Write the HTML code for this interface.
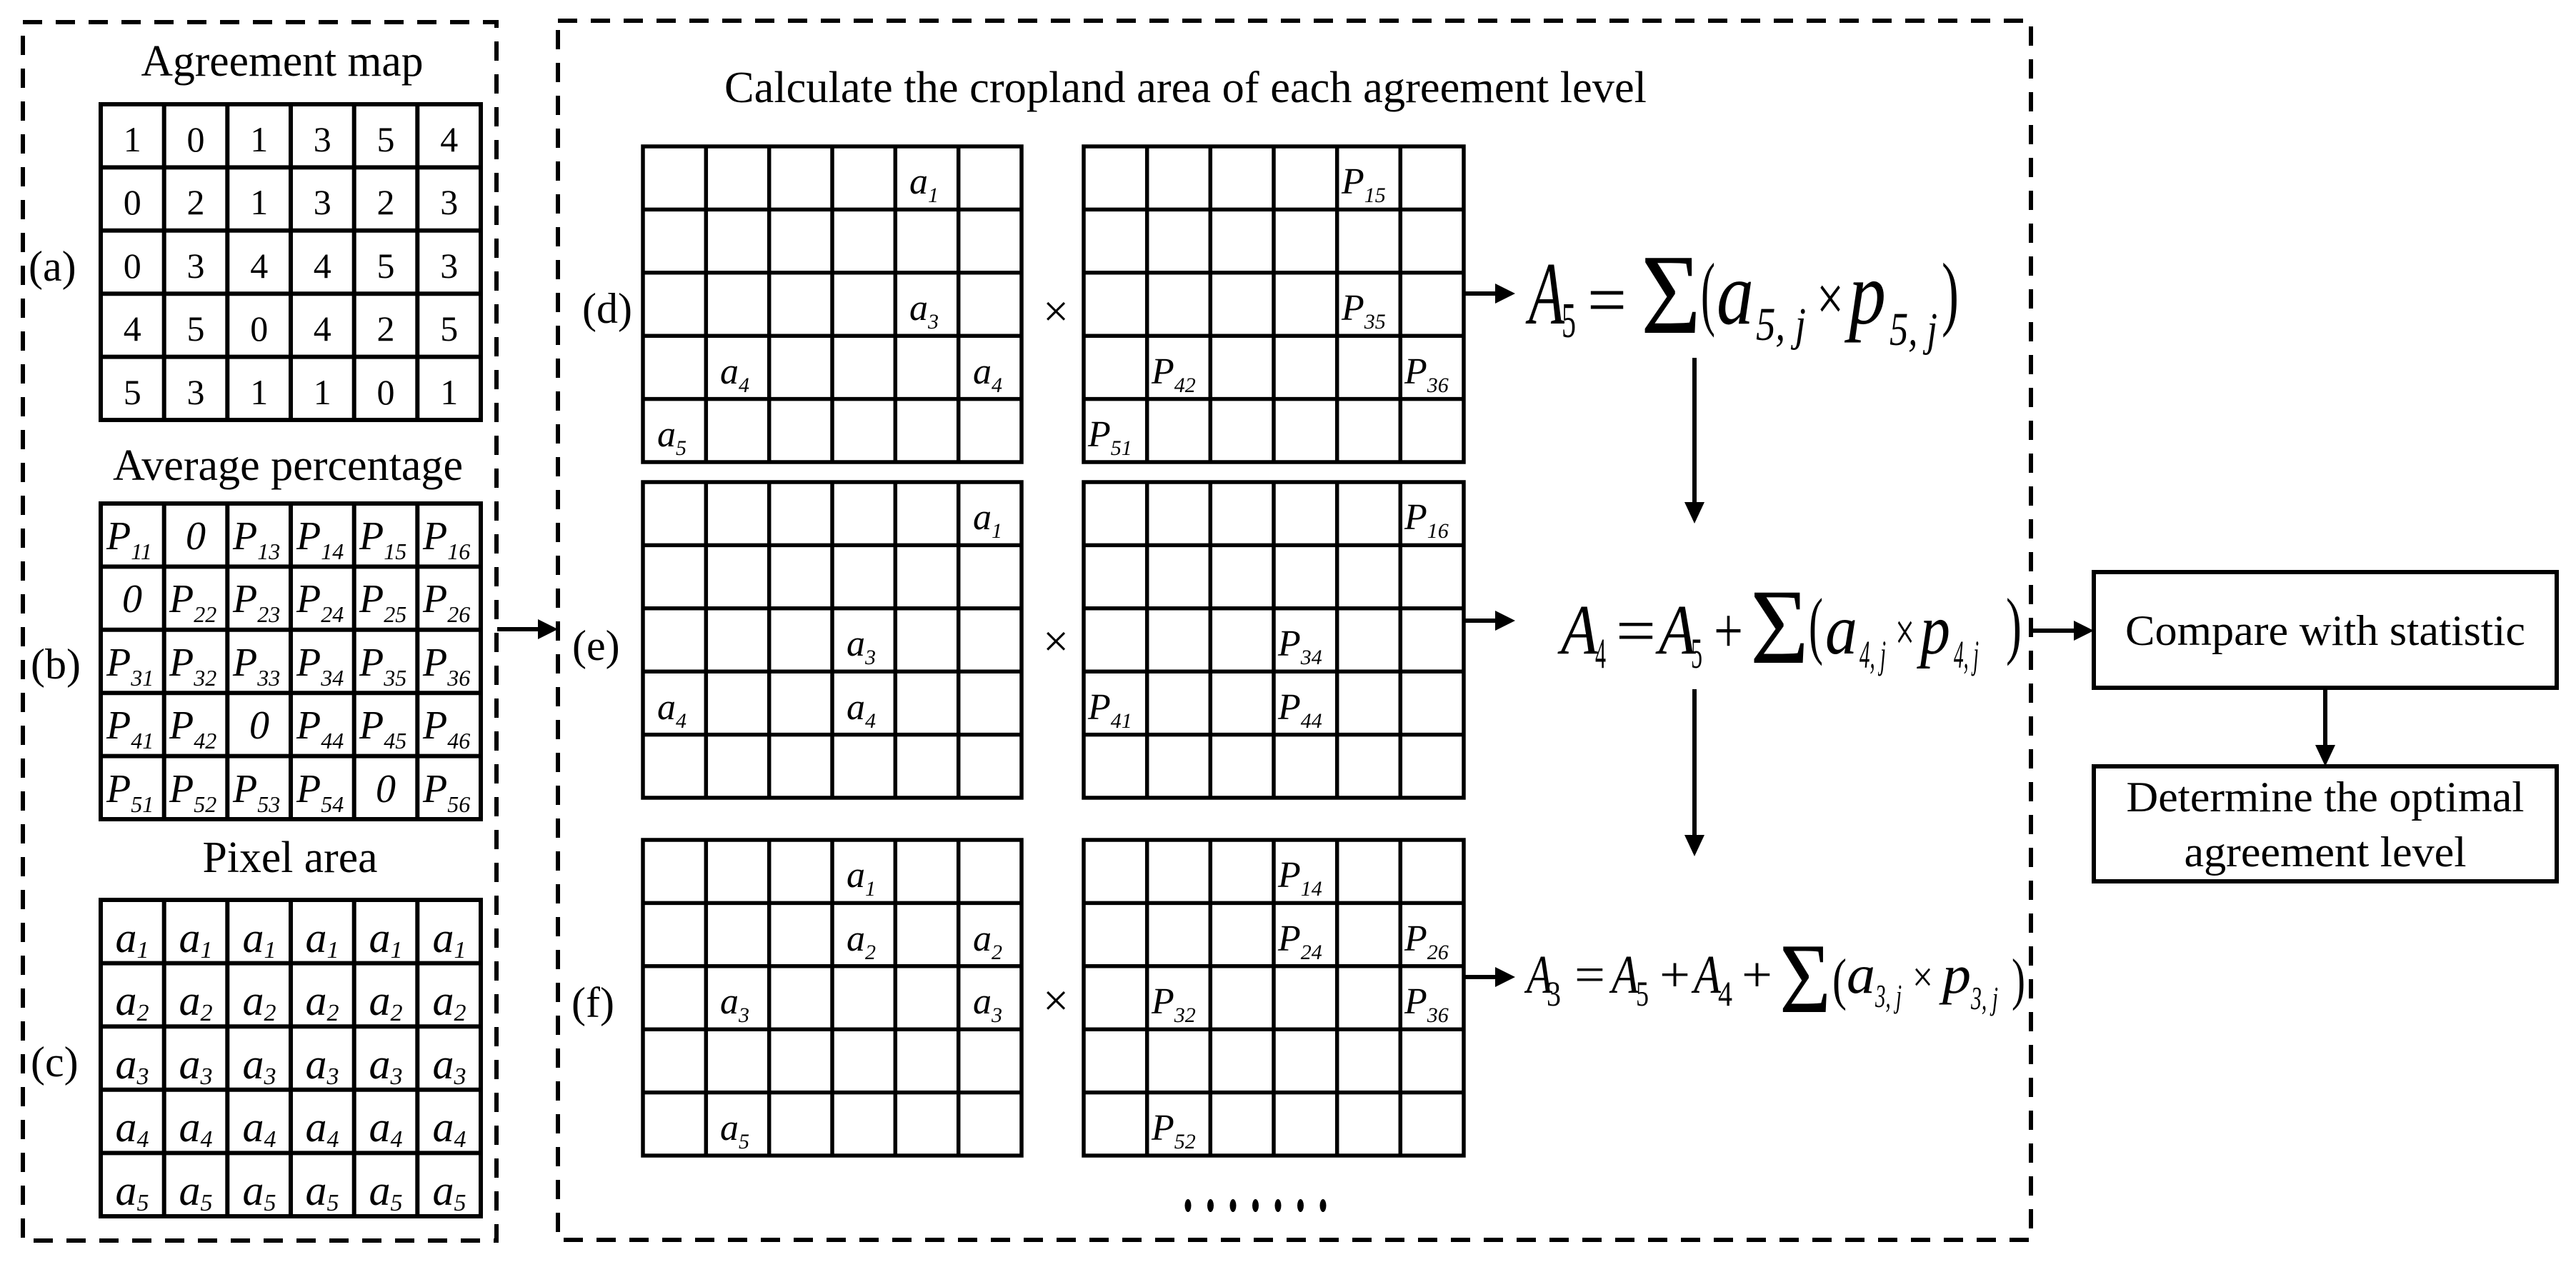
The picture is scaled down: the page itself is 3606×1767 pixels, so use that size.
<!DOCTYPE html>
<html><head><meta charset="utf-8"><style>
html,body{margin:0;padding:0;background:#fff}
svg{display:block}
text{font-family:"Liberation Serif","DejaVu Serif","Times New Roman",Times,serif;fill:#000}
.i{font-style:italic}
</style></head><body>
<svg width="3606" height="1767" viewBox="0 0 3606 1767" xmlns="http://www.w3.org/2000/svg" font-family="Liberation Serif, DejaVu Serif, serif">
<rect width="3606" height="1767" fill="#fff"/>
<rect x="32" y="31" width="663" height="1706" fill="none" stroke="#000" stroke-width="6" stroke-dasharray="27 19"/>
<rect x="781" y="29" width="2062" height="1707" fill="none" stroke="#000" stroke-width="6" stroke-dasharray="27 19"/>

<g fill="none" stroke="#000" stroke-width="6">
<rect x="141" y="146" width="532" height="442"/>
<path d="M229.7 146V588M318.3 146V588M407 146V588M495.7 146V588M584.3 146V588M141 234.4H673M141 322.8H673M141 411.2H673M141 499.6H673"/>
<rect x="141" y="705" width="532" height="442"/>
<path d="M229.7 705V1147M318.3 705V1147M407 705V1147M495.7 705V1147M584.3 705V1147M141 793.4H673M141 881.8H673M141 970.2H673M141 1058.6H673"/>
<rect x="141" y="1260" width="532" height="443"/>
<path d="M229.7 1260V1703M318.3 1260V1703M407 1260V1703M495.7 1260V1703M584.3 1260V1703M141 1348.6H673M141 1437.2H673M141 1525.8H673M141 1614.4H673"/>
</g>
<g fill="none" stroke="#000" stroke-width="5.5">
<rect x="900" y="205" width="530" height="442"/>
<path d="M988.3 205V647M1076.7 205V647M1165 205V647M1253.3 205V647M1341.7 205V647M900 293.4H1430M900 381.8H1430M900 470.2H1430M900 558.6H1430"/>
<rect x="1517" y="205" width="532" height="442"/>
<path d="M1605.7 205V647M1694.3 205V647M1783 205V647M1871.7 205V647M1960.3 205V647M1517 293.4H2049M1517 381.8H2049M1517 470.2H2049M1517 558.6H2049"/>
<rect x="900" y="675" width="530" height="442"/>
<path d="M988.3 675V1117M1076.7 675V1117M1165 675V1117M1253.3 675V1117M1341.7 675V1117M900 763.4H1430M900 851.8H1430M900 940.2H1430M900 1028.6H1430"/>
<rect x="1517" y="675" width="532" height="442"/>
<path d="M1605.7 675V1117M1694.3 675V1117M1783 675V1117M1871.7 675V1117M1960.3 675V1117M1517 763.4H2049M1517 851.8H2049M1517 940.2H2049M1517 1028.6H2049"/>
<rect x="900" y="1176" width="530" height="442"/>
<path d="M988.3 1176V1618M1076.7 1176V1618M1165 1176V1618M1253.3 1176V1618M1341.7 1176V1618M900 1264.4H1430M900 1352.8H1430M900 1441.2H1430M900 1529.6H1430"/>
<rect x="1517" y="1176" width="532" height="442"/>
<path d="M1605.7 1176V1618M1694.3 1176V1618M1783 1176V1618M1871.7 1176V1618M1960.3 1176V1618M1517 1264.4H2049M1517 1352.8H2049M1517 1441.2H2049M1517 1529.6H2049"/>
</g>

<text x="395" y="106" font-size="62" text-anchor="middle" textLength="395" lengthAdjust="spacingAndGlyphs">Agreement map</text>
<text x="403" y="672" font-size="62" text-anchor="middle" textLength="490" lengthAdjust="spacingAndGlyphs">Average percentage</text>
<text x="406" y="1221" font-size="62" text-anchor="middle" textLength="245" lengthAdjust="spacingAndGlyphs">Pixel area</text>
<text x="1014" y="143" font-size="62" textLength="1291" lengthAdjust="spacingAndGlyphs">Calculate the cropland area of each agreement level</text>

<g font-size="60">
<text x="40" y="393">(a)</text>
<text x="43" y="950">(b)</text>
<text x="43" y="1507">(c)</text>
<text x="815" y="452">(d)</text>
<text x="801" y="924">(e)</text>
<text x="800" y="1424">(f)</text>
</g>
<g font-size="64" text-anchor="middle">
<text x="1478" y="457">×</text>
<text x="1478" y="919">×</text>
<text x="1478" y="1422">×</text>
</g>

<g font-size="50" text-anchor="middle">
<text x="185.3" y="212">1</text><text x="274" y="212">0</text><text x="362.7" y="212">1</text><text x="451.3" y="212">3</text><text x="540" y="212">5</text><text x="628.7" y="212">4</text>
<text x="185.3" y="300">0</text><text x="274" y="300">2</text><text x="362.7" y="300">1</text><text x="451.3" y="300">3</text><text x="540" y="300">2</text><text x="628.7" y="300">3</text>
<text x="185.3" y="389">0</text><text x="274" y="389">3</text><text x="362.7" y="389">4</text><text x="451.3" y="389">4</text><text x="540" y="389">5</text><text x="628.7" y="389">3</text>
<text x="185.3" y="477">4</text><text x="274" y="477">5</text><text x="362.7" y="477">0</text><text x="451.3" y="477">4</text><text x="540" y="477">2</text><text x="628.7" y="477">5</text>
<text x="185.3" y="566">5</text><text x="274" y="566">3</text><text x="362.7" y="566">1</text><text x="451.3" y="566">1</text><text x="540" y="566">0</text><text x="628.7" y="566">1</text>
</g>

<g class="i" font-size="56">
<text x="149" y="769">P<tspan font-size="32" dy="14">11</tspan></text>
<text x="274" y="769" text-anchor="middle">0</text>
<text x="326" y="769">P<tspan font-size="32" dy="14">13</tspan></text>
<text x="415" y="769">P<tspan font-size="32" dy="14">14</tspan></text>
<text x="503" y="769">P<tspan font-size="32" dy="14">15</tspan></text>
<text x="592" y="769">P<tspan font-size="32" dy="14">16</tspan></text>
<text x="185" y="857" text-anchor="middle">0</text>
<text x="237" y="857">P<tspan font-size="32" dy="14">22</tspan></text>
<text x="326" y="857">P<tspan font-size="32" dy="14">23</tspan></text>
<text x="415" y="857">P<tspan font-size="32" dy="14">24</tspan></text>
<text x="503" y="857">P<tspan font-size="32" dy="14">25</tspan></text>
<text x="592" y="857">P<tspan font-size="32" dy="14">26</tspan></text>
<text x="149" y="946">P<tspan font-size="32" dy="14">31</tspan></text>
<text x="237" y="946">P<tspan font-size="32" dy="14">32</tspan></text>
<text x="326" y="946">P<tspan font-size="32" dy="14">33</tspan></text>
<text x="415" y="946">P<tspan font-size="32" dy="14">34</tspan></text>
<text x="503" y="946">P<tspan font-size="32" dy="14">35</tspan></text>
<text x="592" y="946">P<tspan font-size="32" dy="14">36</tspan></text>
<text x="149" y="1034">P<tspan font-size="32" dy="14">41</tspan></text>
<text x="237" y="1034">P<tspan font-size="32" dy="14">42</tspan></text>
<text x="363" y="1034" text-anchor="middle">0</text>
<text x="415" y="1034">P<tspan font-size="32" dy="14">44</tspan></text>
<text x="503" y="1034">P<tspan font-size="32" dy="14">45</tspan></text>
<text x="592" y="1034">P<tspan font-size="32" dy="14">46</tspan></text>
<text x="149" y="1123">P<tspan font-size="32" dy="14">51</tspan></text>
<text x="237" y="1123">P<tspan font-size="32" dy="14">52</tspan></text>
<text x="326" y="1123">P<tspan font-size="32" dy="14">53</tspan></text>
<text x="415" y="1123">P<tspan font-size="32" dy="14">54</tspan></text>
<text x="540" y="1123" text-anchor="middle">0</text>
<text x="592" y="1123">P<tspan font-size="32" dy="14">56</tspan></text>
</g>

<g class="i" font-size="60" text-anchor="middle">
<text x="185" y="1333">a<tspan font-size="34" dy="8">1</tspan></text><text x="274" y="1333">a<tspan font-size="34" dy="8">1</tspan></text><text x="363" y="1333">a<tspan font-size="34" dy="8">1</tspan></text><text x="451" y="1333">a<tspan font-size="34" dy="8">1</tspan></text><text x="540" y="1333">a<tspan font-size="34" dy="8">1</tspan></text><text x="629" y="1333">a<tspan font-size="34" dy="8">1</tspan></text>
<text x="185" y="1421">a<tspan font-size="34" dy="8">2</tspan></text><text x="274" y="1421">a<tspan font-size="34" dy="8">2</tspan></text><text x="363" y="1421">a<tspan font-size="34" dy="8">2</tspan></text><text x="451" y="1421">a<tspan font-size="34" dy="8">2</tspan></text><text x="540" y="1421">a<tspan font-size="34" dy="8">2</tspan></text><text x="629" y="1421">a<tspan font-size="34" dy="8">2</tspan></text>
<text x="185" y="1510">a<tspan font-size="34" dy="8">3</tspan></text><text x="274" y="1510">a<tspan font-size="34" dy="8">3</tspan></text><text x="363" y="1510">a<tspan font-size="34" dy="8">3</tspan></text><text x="451" y="1510">a<tspan font-size="34" dy="8">3</tspan></text><text x="540" y="1510">a<tspan font-size="34" dy="8">3</tspan></text><text x="629" y="1510">a<tspan font-size="34" dy="8">3</tspan></text>
<text x="185" y="1598">a<tspan font-size="34" dy="8">4</tspan></text><text x="274" y="1598">a<tspan font-size="34" dy="8">4</tspan></text><text x="363" y="1598">a<tspan font-size="34" dy="8">4</tspan></text><text x="451" y="1598">a<tspan font-size="34" dy="8">4</tspan></text><text x="540" y="1598">a<tspan font-size="34" dy="8">4</tspan></text><text x="629" y="1598">a<tspan font-size="34" dy="8">4</tspan></text>
<text x="185" y="1687">a<tspan font-size="34" dy="8">5</tspan></text><text x="274" y="1687">a<tspan font-size="34" dy="8">5</tspan></text><text x="363" y="1687">a<tspan font-size="34" dy="8">5</tspan></text><text x="451" y="1687">a<tspan font-size="34" dy="8">5</tspan></text><text x="540" y="1687">a<tspan font-size="34" dy="8">5</tspan></text><text x="629" y="1687">a<tspan font-size="34" dy="8">5</tspan></text>
</g>

<g class="i" font-size="52">
<text x="1273" y="271">a<tspan font-size="30" dy="12">1</tspan></text>
<text x="1273" y="448">a<tspan font-size="30" dy="12">3</tspan></text>
<text x="1008" y="537">a<tspan font-size="30" dy="12">4</tspan></text>
<text x="1362" y="537">a<tspan font-size="30" dy="12">4</tspan></text>
<text x="920" y="625">a<tspan font-size="30" dy="12">5</tspan></text>
<text x="1878" y="271">P<tspan font-size="30" dy="12">15</tspan></text>
<text x="1878" y="448">P<tspan font-size="30" dy="12">35</tspan></text>
<text x="1612" y="537">P<tspan font-size="30" dy="12">42</tspan></text>
<text x="1966" y="537">P<tspan font-size="30" dy="12">36</tspan></text>
<text x="1523" y="625">P<tspan font-size="30" dy="12">51</tspan></text>
<text x="1362" y="741">a<tspan font-size="30" dy="12">1</tspan></text>
<text x="1185" y="918">a<tspan font-size="30" dy="12">3</tspan></text>
<text x="920" y="1007">a<tspan font-size="30" dy="12">4</tspan></text>
<text x="1185" y="1007">a<tspan font-size="30" dy="12">4</tspan></text>
<text x="1966" y="741">P<tspan font-size="30" dy="12">16</tspan></text>
<text x="1789" y="918">P<tspan font-size="30" dy="12">34</tspan></text>
<text x="1523" y="1007">P<tspan font-size="30" dy="12">41</tspan></text>
<text x="1789" y="1007">P<tspan font-size="30" dy="12">44</tspan></text>
<text x="1185" y="1242">a<tspan font-size="30" dy="12">1</tspan></text>
<text x="1185" y="1331">a<tspan font-size="30" dy="12">2</tspan></text>
<text x="1362" y="1331">a<tspan font-size="30" dy="12">2</tspan></text>
<text x="1008" y="1419">a<tspan font-size="30" dy="12">3</tspan></text>
<text x="1362" y="1419">a<tspan font-size="30" dy="12">3</tspan></text>
<text x="1008" y="1596">a<tspan font-size="30" dy="12">5</tspan></text>
<text x="1789" y="1242">P<tspan font-size="30" dy="12">14</tspan></text>
<text x="1789" y="1331">P<tspan font-size="30" dy="12">24</tspan></text>
<text x="1966" y="1331">P<tspan font-size="30" dy="12">26</tspan></text>
<text x="1612" y="1419">P<tspan font-size="30" dy="12">32</tspan></text>
<text x="1966" y="1419">P<tspan font-size="30" dy="12">36</tspan></text>
<text x="1612" y="1596">P<tspan font-size="30" dy="12">52</tspan></text>
</g>

<g fill="#000">
<ellipse cx="1663" cy="1688" rx="4.5" ry="9"/><ellipse cx="1694.5" cy="1688" rx="4.5" ry="9"/><ellipse cx="1726" cy="1688" rx="4.5" ry="9"/><ellipse cx="1757.5" cy="1688" rx="4.5" ry="9"/><ellipse cx="1789" cy="1688" rx="4.5" ry="9"/><ellipse cx="1820.5" cy="1688" rx="4.5" ry="9"/><ellipse cx="1852" cy="1688" rx="4.5" ry="9"/>
</g>

<g stroke="#000" stroke-width="6" fill="none">
<path d="M696 881H755"/>
<path d="M2050 411H2095"/>
<path d="M2049 869H2095"/>
<path d="M2049 1368H2095"/>
<path d="M2372 501V705"/>
<path d="M2372 965V1171"/>
<path d="M2845 883H2905"/>
<path d="M3255 963V1045"/>
</g>
<g fill="#000">
<path d="M781 881L753 867V895Z"/>
<path d="M2121 411L2093 397V425Z"/>
<path d="M2121 869L2093 855V883Z"/>
<path d="M2121 1368L2093 1354V1382Z"/>
<path d="M2372 733L2358 703H2386Z"/>
<path d="M2372 1199L2358 1169H2386Z"/>
<path d="M2931 883L2903 869V897Z"/>
<path d="M3255 1073L3241 1043H3269Z"/>
</g>

<text class="i" x="2140" y="453" font-size="125" textLength="50" lengthAdjust="spacingAndGlyphs">A</text>
<text x="2186" y="472" font-size="70" textLength="20" lengthAdjust="spacingAndGlyphs">5</text>
<text x="2222" y="453" font-size="100" textLength="55" lengthAdjust="spacingAndGlyphs">=</text>
<text x="2297" y="466" font-size="160" textLength="84" lengthAdjust="spacingAndGlyphs">Σ</text>
<text x="2381" y="448" font-size="115" textLength="20" lengthAdjust="spacingAndGlyphs">(</text>
<text class="i" x="2403" y="453" font-size="125" textLength="52" lengthAdjust="spacingAndGlyphs">a</text>
<text class="i" x="2458" y="476" font-size="66" textLength="70" lengthAdjust="spacingAndGlyphs">5, j</text>
<text x="2543" y="448" font-size="90" textLength="38" lengthAdjust="spacingAndGlyphs">×</text>
<text class="i" x="2588" y="453" font-size="125" textLength="52" lengthAdjust="spacingAndGlyphs">p</text>
<text class="i" x="2645" y="483" font-size="66" textLength="67" lengthAdjust="spacingAndGlyphs">5, j</text>
<text x="2718" y="448" font-size="115" textLength="24" lengthAdjust="spacingAndGlyphs">)</text>

<text class="i" x="2185" y="915" font-size="100" textLength="52" lengthAdjust="spacingAndGlyphs">A</text>
<text x="2233" y="935" font-size="60" textLength="15" lengthAdjust="spacingAndGlyphs">4</text>
<text x="2262" y="913" font-size="90" textLength="56" lengthAdjust="spacingAndGlyphs">=</text>
<text class="i" x="2322" y="915" font-size="100" textLength="52" lengthAdjust="spacingAndGlyphs">A</text>
<text x="2367" y="935" font-size="60" textLength="16" lengthAdjust="spacingAndGlyphs">5</text>
<text x="2399" y="913" font-size="90" textLength="41" lengthAdjust="spacingAndGlyphs">+</text>
<text x="2450" y="928" font-size="150" textLength="82" lengthAdjust="spacingAndGlyphs">Σ</text>
<text x="2532" y="910" font-size="105" textLength="20" lengthAdjust="spacingAndGlyphs">(</text>
<text class="i" x="2555" y="915" font-size="100" textLength="45" lengthAdjust="spacingAndGlyphs">a</text>
<text class="i" x="2603" y="935" font-size="55" textLength="37" lengthAdjust="spacingAndGlyphs">4, j</text>
<text x="2653" y="910" font-size="75" textLength="27" lengthAdjust="spacingAndGlyphs">×</text>
<text class="i" x="2688" y="915" font-size="100" textLength="42" lengthAdjust="spacingAndGlyphs">p</text>
<text class="i" x="2735" y="935" font-size="55" textLength="35" lengthAdjust="spacingAndGlyphs">4, j</text>
<text x="2808" y="910" font-size="105" textLength="22" lengthAdjust="spacingAndGlyphs">)</text>

<text class="i" x="2137" y="1390" font-size="76" textLength="36" lengthAdjust="spacingAndGlyphs">A</text>
<text x="2165" y="1408" font-size="50" textLength="20" lengthAdjust="spacingAndGlyphs">3</text>
<text x="2204" y="1388" font-size="70" textLength="43" lengthAdjust="spacingAndGlyphs">=</text>
<text class="i" x="2256" y="1390" font-size="76" textLength="38" lengthAdjust="spacingAndGlyphs">A</text>
<text x="2290" y="1408" font-size="50" textLength="18" lengthAdjust="spacingAndGlyphs">5</text>
<text x="2323" y="1388" font-size="70" textLength="43" lengthAdjust="spacingAndGlyphs">+</text>
<text class="i" x="2371" y="1390" font-size="76" textLength="38" lengthAdjust="spacingAndGlyphs">A</text>
<text x="2405" y="1408" font-size="50" textLength="20" lengthAdjust="spacingAndGlyphs">4</text>
<text x="2438" y="1388" font-size="70" textLength="43" lengthAdjust="spacingAndGlyphs">+</text>
<text x="2491" y="1417" font-size="140" textLength="72" lengthAdjust="spacingAndGlyphs">Σ</text>
<text x="2565" y="1398" font-size="80" textLength="20" lengthAdjust="spacingAndGlyphs">(</text>
<text class="i" x="2585" y="1390" font-size="76" textLength="40" lengthAdjust="spacingAndGlyphs">a</text>
<text class="i" x="2625" y="1410" font-size="45" textLength="37" lengthAdjust="spacingAndGlyphs">3, j</text>
<text x="2677" y="1388" font-size="60" textLength="29" lengthAdjust="spacingAndGlyphs">×</text>
<text class="i" x="2719" y="1390" font-size="76" textLength="40" lengthAdjust="spacingAndGlyphs">p</text>
<text class="i" x="2759" y="1413" font-size="45" textLength="38" lengthAdjust="spacingAndGlyphs">3, j</text>
<text x="2816" y="1398" font-size="80" textLength="19" lengthAdjust="spacingAndGlyphs">)</text>

<rect x="2931" y="801" width="648" height="162" fill="#fff" stroke="#000" stroke-width="6"/>
<rect x="2931" y="1073" width="648" height="161" fill="#fff" stroke="#000" stroke-width="6"/>
<text x="3255" y="903" font-size="60" text-anchor="middle" textLength="560" lengthAdjust="spacingAndGlyphs">Compare with statistic</text>
<text x="3255" y="1136" font-size="60" text-anchor="middle" textLength="557" lengthAdjust="spacingAndGlyphs">Determine the optimal</text>
<text x="3255" y="1213" font-size="60" text-anchor="middle" textLength="395" lengthAdjust="spacingAndGlyphs">agreement level</text>
</svg>
</body></html>
